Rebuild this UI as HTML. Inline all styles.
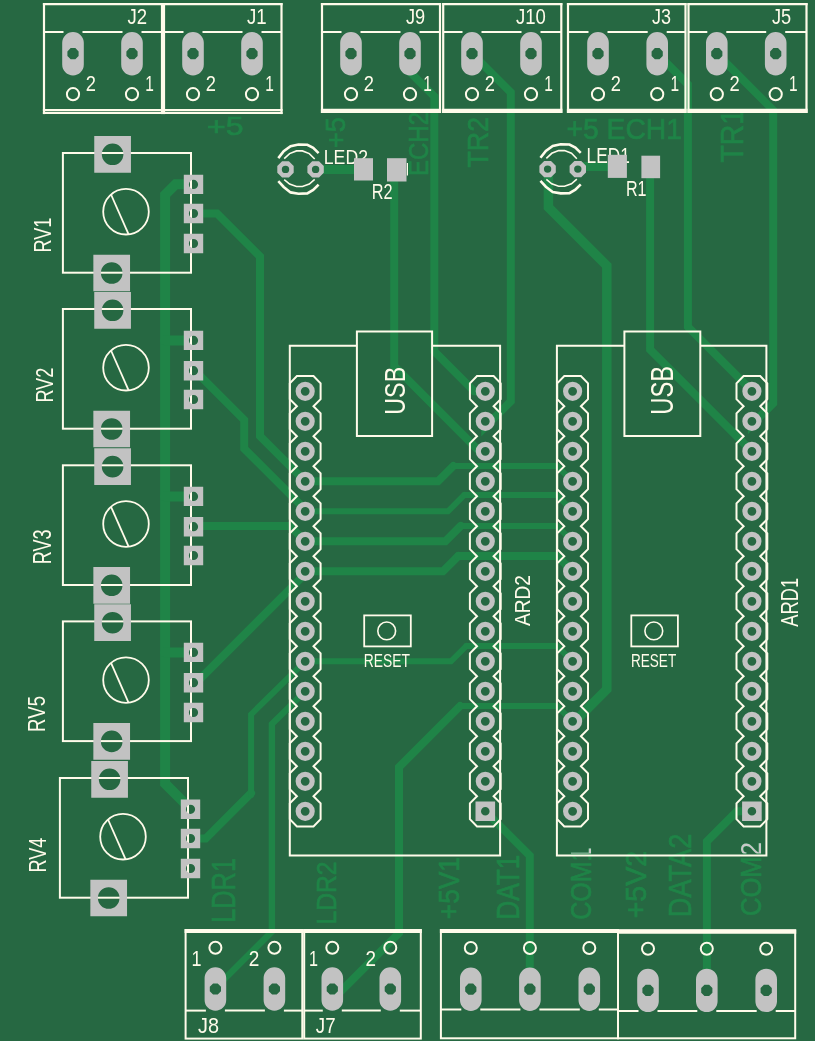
<!DOCTYPE html>
<html><head><meta charset="utf-8"><title>PCB</title>
<style>html,body{margin:0;padding:0;background:#266842;overflow:hidden}svg{display:block;will-change:transform}text{font-family:"Liberation Sans",sans-serif}</style>
</head><body>
<svg width="815" height="1041" viewBox="0 0 815 1041">
<rect width="815" height="1041" fill="#266842"/>
<g id="tr">
<polyline points="410,72.1 434.3,96.4 434.3,351.4 474.2,391.3 485.3,391.3" fill="none" stroke="#1f8447" stroke-width="8" stroke-linecap="round" stroke-linejoin="miter" stroke-miterlimit="4"/>
<polyline points="472,53.7 510.8,92.5 510.8,401.4 485.3,426.9 485.3,421.3" fill="none" stroke="#1f8447" stroke-width="8" stroke-linecap="round" stroke-linejoin="miter" stroke-miterlimit="4"/>
<polyline points="657.2,53.7 687.9,84.4 687.9,326.8 752.4,391.3" fill="none" stroke="#1f8447" stroke-width="8" stroke-linecap="round" stroke-linejoin="miter" stroke-miterlimit="4"/>
<polyline points="716.8,53.7 773.2,110.1 773.2,403.3 751.9,424.6 751.9,421.3" fill="none" stroke="#1f8447" stroke-width="8" stroke-linecap="round" stroke-linejoin="miter" stroke-miterlimit="4"/>
<polyline points="315.6,169.5 363,169.5" fill="none" stroke="#1f8447" stroke-width="9" stroke-linecap="round" stroke-linejoin="miter" stroke-miterlimit="4"/>
<polyline points="396.7,170 394.2,172.5 394.2,366.2 478.7,450.7 485.3,450.7" fill="none" stroke="#1f8447" stroke-width="8" stroke-linecap="round" stroke-linejoin="miter" stroke-miterlimit="4"/>
<polyline points="577.8,166.5 617,166.5" fill="none" stroke="#1f8447" stroke-width="9" stroke-linecap="round" stroke-linejoin="miter" stroke-miterlimit="4"/>
<polyline points="650.7,167 650.1,168 650.1,349.7 751.9,451.3" fill="none" stroke="#1f8447" stroke-width="8" stroke-linecap="round" stroke-linejoin="miter" stroke-miterlimit="4"/>
<polyline points="547.6,169 548.4,170 548.4,207.3 606.8,265.7 606.8,689.4 575.6,720.6 572.6,721.3" fill="none" stroke="#1f8447" stroke-width="9.5" stroke-linecap="round" stroke-linejoin="miter" stroke-miterlimit="4"/>
<polyline points="193.5,184.2 175.7,184.2 165.1,194.8 165.1,783.6 190.5,809" fill="none" stroke="#1f8447" stroke-width="10" stroke-linecap="round" stroke-linejoin="miter" stroke-miterlimit="4"/>
<polyline points="165.1,340.4 193.5,340.4" fill="none" stroke="#1f8447" stroke-width="10" stroke-linecap="round" stroke-linejoin="miter" stroke-miterlimit="4"/>
<polyline points="165.1,496.4 193.5,496.4" fill="none" stroke="#1f8447" stroke-width="10" stroke-linecap="round" stroke-linejoin="miter" stroke-miterlimit="4"/>
<polyline points="165.1,652.4 193.5,652.4" fill="none" stroke="#1f8447" stroke-width="10" stroke-linecap="round" stroke-linejoin="miter" stroke-miterlimit="4"/>
<polyline points="193.5,213.5 217,213.5 260,256.5 260,436 305.2,481.3 438,481.3 453.3,466" fill="none" stroke="#1f8447" stroke-width="8" stroke-linecap="round" stroke-linejoin="miter" stroke-miterlimit="4"/>
<polyline points="453.3,466 557,466 572.6,481.3" fill="none" stroke="#1f8447" stroke-width="6" stroke-linecap="round" stroke-linejoin="miter" stroke-miterlimit="4"/>
<polyline points="193.5,370.7 195,370.7 244.2,419.9 244.2,448.5 305.2,509.5 305.2,511.3" fill="none" stroke="#1f8447" stroke-width="8" stroke-linecap="round" stroke-linejoin="miter" stroke-miterlimit="4"/>
<polyline points="305.2,511.3 448,511.3 464.4,494.9" fill="none" stroke="#1f8447" stroke-width="6" stroke-linecap="round" stroke-linejoin="miter" stroke-miterlimit="4"/>
<polyline points="464.4,494.9 557,494.9 572.6,511.3" fill="none" stroke="#1f8447" stroke-width="6" stroke-linecap="round" stroke-linejoin="miter" stroke-miterlimit="4"/>
<polyline points="193.5,526 290,526 305.2,541.3 445.4,541.3 460.8,525.9" fill="none" stroke="#1f8447" stroke-width="8" stroke-linecap="round" stroke-linejoin="miter" stroke-miterlimit="4"/>
<polyline points="460.8,525.9 557,525.9 572.6,541.3" fill="none" stroke="#1f8447" stroke-width="6" stroke-linecap="round" stroke-linejoin="miter" stroke-miterlimit="4"/>
<polyline points="193.5,682.7 196.3,682.7 305.2,573.8 305.2,571.3 443,571.3 458.4,555.9" fill="none" stroke="#1f8447" stroke-width="8" stroke-linecap="round" stroke-linejoin="miter" stroke-miterlimit="4"/>
<polyline points="458.4,555.9 557,555.9 572.6,571.3" fill="none" stroke="#1f8447" stroke-width="8" stroke-linecap="round" stroke-linejoin="miter" stroke-miterlimit="4"/>
<polyline points="190.5,838.5 205.7,838.5 251.1,793.1" fill="none" stroke="#1f8447" stroke-width="8" stroke-linecap="round" stroke-linejoin="miter" stroke-miterlimit="4"/>
<polyline points="251.1,795 251.1,714.4 305.2,661.3 451,661.3 466.3,646" fill="none" stroke="#1f8447" stroke-width="6" stroke-linecap="round" stroke-linejoin="miter" stroke-miterlimit="4"/>
<polyline points="466.3,646 557,646 572.6,661.3" fill="none" stroke="#1f8447" stroke-width="6" stroke-linecap="round" stroke-linejoin="miter" stroke-miterlimit="4"/>
<polyline points="305.2,691.3 271.9,724 271.9,931.6 215.4,988.1" fill="none" stroke="#1f8447" stroke-width="6.4" stroke-linecap="round" stroke-linejoin="miter" stroke-miterlimit="4"/>
<polyline points="332.3,999.8 399,933.1 399,767.1 460.1,706" fill="none" stroke="#1f8447" stroke-width="8" stroke-linecap="round" stroke-linejoin="miter" stroke-miterlimit="4"/>
<polyline points="460.1,706 557,706 572.6,721.3" fill="none" stroke="#1f8447" stroke-width="6" stroke-linecap="round" stroke-linejoin="miter" stroke-miterlimit="4"/>
<polyline points="485.3,811.3 529.8,855.6 529.8,989.2" fill="none" stroke="#1f8447" stroke-width="8" stroke-linecap="round" stroke-linejoin="miter" stroke-miterlimit="4"/>
<polyline points="751.9,811.3 736.9,811.3 706.9,841.3 706.9,990.4" fill="none" stroke="#1f8447" stroke-width="8" stroke-linecap="round" stroke-linejoin="miter" stroke-miterlimit="4"/>
</g>
<g id="ct" font-family="Liberation Sans" stroke="#1f8447" stroke-width="0.7">
<text x="207" y="134.8" font-size="26" fill="#1f8447" textLength="36.5" lengthAdjust="spacingAndGlyphs">+5</text>
<text transform="translate(344.7,148) rotate(-90)" x="0" y="0" font-size="28.14" fill="#1f8447" textLength="31" lengthAdjust="spacingAndGlyphs">+5</text>
<text transform="translate(428,176) rotate(-90)" x="0" y="0" font-size="27.86" fill="#1f8447" textLength="64" lengthAdjust="spacingAndGlyphs">ECH2</text>
<text transform="translate(488,167.5) rotate(-90)" x="0" y="0" font-size="30" fill="#1f8447" textLength="50.5" lengthAdjust="spacingAndGlyphs">TR2</text>
<text x="566.4" y="139.3" font-size="29.29" fill="#1f8447" textLength="115.6" lengthAdjust="spacingAndGlyphs">+5 ECH1</text>
<text transform="translate(743,162.6) rotate(-90)" x="0" y="0" font-size="31.43" fill="#1f8447" textLength="53.6" lengthAdjust="spacingAndGlyphs">TR1</text>
<text transform="translate(234.6,922.8) rotate(-90)" x="0" y="0" font-size="33.14" fill="#1f8447" textLength="64.8" lengthAdjust="spacingAndGlyphs">LDR1</text>
<text transform="translate(335.6,924.5) rotate(-90)" x="0" y="0" font-size="28.29" fill="#1f8447" textLength="63" lengthAdjust="spacingAndGlyphs">LDR2</text>
<text transform="translate(458.6,919.2) rotate(-90)" x="0" y="0" font-size="29.71" fill="#1f8447" textLength="62.2" lengthAdjust="spacingAndGlyphs">+5V1</text>
<text transform="translate(519.4,919.8) rotate(-90)" x="0" y="0" font-size="30.57" fill="#1f8447" textLength="65.1" lengthAdjust="spacingAndGlyphs">DAT1</text>
<text transform="translate(591,919.8) rotate(-90)" x="0" y="0" font-size="29.71" fill="#1f8447" textLength="72.4" lengthAdjust="spacingAndGlyphs">COM1</text>
<text transform="translate(646.4,918.3) rotate(-90)" x="0" y="0" font-size="30" fill="#1f8447" textLength="67.4" lengthAdjust="spacingAndGlyphs">+5V2</text>
<text transform="translate(690.5,917.2) rotate(-90)" x="0" y="0" font-size="30.86" fill="#1f8447" textLength="83.5" lengthAdjust="spacingAndGlyphs">DATA2</text>
<text transform="translate(761.2,916.1) rotate(-90)" x="0" y="0" font-size="30" fill="#1f8447" textLength="74" lengthAdjust="spacingAndGlyphs">COM2</text>
</g>
<g id="hole">
<path d="M70.68,48.1 L75.32,48.1 L78.6,51.38 L78.6,56.02 L75.32,59.3 L70.68,59.3 L67.4,56.02 L67.4,51.38Z" fill="#266842"/>
<path d="M129.68,48.1 L134.32,48.1 L137.6,51.38 L137.6,56.02 L134.32,59.3 L129.68,59.3 L126.4,56.02 L126.4,51.38Z" fill="#266842"/>
<path d="M190.68,48.1 L195.32,48.1 L198.6,51.38 L198.6,56.02 L195.32,59.3 L190.68,59.3 L187.4,56.02 L187.4,51.38Z" fill="#266842"/>
<path d="M249.68,48.1 L254.32,48.1 L257.6,51.38 L257.6,56.02 L254.32,59.3 L249.68,59.3 L246.4,56.02 L246.4,51.38Z" fill="#266842"/>
<path d="M348.68,48.1 L353.32,48.1 L356.6,51.38 L356.6,56.02 L353.32,59.3 L348.68,59.3 L345.4,56.02 L345.4,51.38Z" fill="#266842"/>
<path d="M407.68,48.1 L412.32,48.1 L415.6,51.38 L415.6,56.02 L412.32,59.3 L407.68,59.3 L404.4,56.02 L404.4,51.38Z" fill="#266842"/>
<path d="M469.68,48.1 L474.32,48.1 L477.6,51.38 L477.6,56.02 L474.32,59.3 L469.68,59.3 L466.4,56.02 L466.4,51.38Z" fill="#266842"/>
<path d="M528.68,48.1 L533.32,48.1 L536.6,51.38 L536.6,56.02 L533.32,59.3 L528.68,59.3 L525.4,56.02 L525.4,51.38Z" fill="#266842"/>
<path d="M595.68,48.1 L600.32,48.1 L603.6,51.38 L603.6,56.02 L600.32,59.3 L595.68,59.3 L592.4,56.02 L592.4,51.38Z" fill="#266842"/>
<path d="M654.88,48.1 L659.52,48.1 L662.8,51.38 L662.8,56.02 L659.52,59.3 L654.88,59.3 L651.6,56.02 L651.6,51.38Z" fill="#266842"/>
<path d="M714.48,48.1 L719.12,48.1 L722.4,51.38 L722.4,56.02 L719.12,59.3 L714.48,59.3 L711.2,56.02 L711.2,51.38Z" fill="#266842"/>
<path d="M773.38,48.1 L778.02,48.1 L781.3,51.38 L781.3,56.02 L778.02,59.3 L773.38,59.3 L770.1,56.02 L770.1,51.38Z" fill="#266842"/>
<circle cx="112.6" cy="154.3" r="10.8" fill="#266842"/>
<circle cx="111.7" cy="273" r="10.8" fill="#266842"/>
<circle cx="193.5" cy="184.4" r="4.6" fill="#266842"/>
<circle cx="193.5" cy="213.5" r="4.6" fill="#266842"/>
<circle cx="193.5" cy="243.5" r="4.6" fill="#266842"/>
<circle cx="112.6" cy="310.3" r="10.8" fill="#266842"/>
<circle cx="111.7" cy="429" r="10.8" fill="#266842"/>
<circle cx="193.5" cy="340.4" r="4.6" fill="#266842"/>
<circle cx="193.5" cy="370.7" r="4.6" fill="#266842"/>
<circle cx="193.5" cy="399.5" r="4.6" fill="#266842"/>
<circle cx="112.6" cy="466.6" r="10.8" fill="#266842"/>
<circle cx="111.7" cy="585.3" r="10.8" fill="#266842"/>
<circle cx="193.5" cy="496.4" r="4.6" fill="#266842"/>
<circle cx="193.5" cy="526.7" r="4.6" fill="#266842"/>
<circle cx="193.5" cy="555.5" r="4.6" fill="#266842"/>
<circle cx="112.6" cy="622.7" r="10.8" fill="#266842"/>
<circle cx="111.7" cy="741.4" r="10.8" fill="#266842"/>
<circle cx="193.5" cy="652.4" r="4.6" fill="#266842"/>
<circle cx="193.5" cy="682.7" r="4.6" fill="#266842"/>
<circle cx="193.5" cy="712.5" r="4.6" fill="#266842"/>
<circle cx="109.6" cy="779.3" r="10.8" fill="#266842"/>
<circle cx="108.7" cy="898" r="10.8" fill="#266842"/>
<circle cx="190.5" cy="809.3" r="4.6" fill="#266842"/>
<circle cx="190.5" cy="838.5" r="4.6" fill="#266842"/>
<circle cx="190.5" cy="868.5" r="4.6" fill="#266842"/>
<circle cx="305.2" cy="391.3" r="4.4" fill="#266842"/>
<circle cx="485.3" cy="391.3" r="4.4" fill="#266842"/>
<circle cx="305.2" cy="421.3" r="4.4" fill="#266842"/>
<circle cx="485.3" cy="421.3" r="4.4" fill="#266842"/>
<circle cx="305.2" cy="451.3" r="4.4" fill="#266842"/>
<circle cx="485.3" cy="451.3" r="4.4" fill="#266842"/>
<circle cx="305.2" cy="481.3" r="4.4" fill="#266842"/>
<circle cx="485.3" cy="481.3" r="4.4" fill="#266842"/>
<circle cx="305.2" cy="511.3" r="4.4" fill="#266842"/>
<circle cx="485.3" cy="511.3" r="4.4" fill="#266842"/>
<circle cx="305.2" cy="541.3" r="4.4" fill="#266842"/>
<circle cx="485.3" cy="541.3" r="4.4" fill="#266842"/>
<circle cx="305.2" cy="571.3" r="4.4" fill="#266842"/>
<circle cx="485.3" cy="571.3" r="4.4" fill="#266842"/>
<circle cx="305.2" cy="601.3" r="4.4" fill="#266842"/>
<circle cx="485.3" cy="601.3" r="4.4" fill="#266842"/>
<circle cx="305.2" cy="631.3" r="4.4" fill="#266842"/>
<circle cx="485.3" cy="631.3" r="4.4" fill="#266842"/>
<circle cx="305.2" cy="661.3" r="4.4" fill="#266842"/>
<circle cx="485.3" cy="661.3" r="4.4" fill="#266842"/>
<circle cx="305.2" cy="691.3" r="4.4" fill="#266842"/>
<circle cx="485.3" cy="691.3" r="4.4" fill="#266842"/>
<circle cx="305.2" cy="721.3" r="4.4" fill="#266842"/>
<circle cx="485.3" cy="721.3" r="4.4" fill="#266842"/>
<circle cx="305.2" cy="751.3" r="4.4" fill="#266842"/>
<circle cx="485.3" cy="751.3" r="4.4" fill="#266842"/>
<circle cx="305.2" cy="781.3" r="4.4" fill="#266842"/>
<circle cx="485.3" cy="781.3" r="4.4" fill="#266842"/>
<circle cx="305.2" cy="811.3" r="4.4" fill="#266842"/>
<circle cx="485.3" cy="811.3" r="4.3" fill="#266842"/>
<circle cx="572.6" cy="391.3" r="4.4" fill="#266842"/>
<circle cx="751.9" cy="391.3" r="4.4" fill="#266842"/>
<circle cx="572.6" cy="421.3" r="4.4" fill="#266842"/>
<circle cx="751.9" cy="421.3" r="4.4" fill="#266842"/>
<circle cx="572.6" cy="451.3" r="4.4" fill="#266842"/>
<circle cx="751.9" cy="451.3" r="4.4" fill="#266842"/>
<circle cx="572.6" cy="481.3" r="4.4" fill="#266842"/>
<circle cx="751.9" cy="481.3" r="4.4" fill="#266842"/>
<circle cx="572.6" cy="511.3" r="4.4" fill="#266842"/>
<circle cx="751.9" cy="511.3" r="4.4" fill="#266842"/>
<circle cx="572.6" cy="541.3" r="4.4" fill="#266842"/>
<circle cx="751.9" cy="541.3" r="4.4" fill="#266842"/>
<circle cx="572.6" cy="571.3" r="4.4" fill="#266842"/>
<circle cx="751.9" cy="571.3" r="4.4" fill="#266842"/>
<circle cx="572.6" cy="601.3" r="4.4" fill="#266842"/>
<circle cx="751.9" cy="601.3" r="4.4" fill="#266842"/>
<circle cx="572.6" cy="631.3" r="4.4" fill="#266842"/>
<circle cx="751.9" cy="631.3" r="4.4" fill="#266842"/>
<circle cx="572.6" cy="661.3" r="4.4" fill="#266842"/>
<circle cx="751.9" cy="661.3" r="4.4" fill="#266842"/>
<circle cx="572.6" cy="691.3" r="4.4" fill="#266842"/>
<circle cx="751.9" cy="691.3" r="4.4" fill="#266842"/>
<circle cx="572.6" cy="721.3" r="4.4" fill="#266842"/>
<circle cx="751.9" cy="721.3" r="4.4" fill="#266842"/>
<circle cx="572.6" cy="751.3" r="4.4" fill="#266842"/>
<circle cx="751.9" cy="751.3" r="4.4" fill="#266842"/>
<circle cx="572.6" cy="781.3" r="4.4" fill="#266842"/>
<circle cx="751.9" cy="781.3" r="4.4" fill="#266842"/>
<circle cx="572.6" cy="811.3" r="4.4" fill="#266842"/>
<circle cx="751.9" cy="811.3" r="4.3" fill="#266842"/>
<circle cx="285.5" cy="169.4" r="3.7" fill="#266842"/>
<circle cx="315.6" cy="169.4" r="3.7" fill="#266842"/>
<circle cx="547.6" cy="169.1" r="3.7" fill="#266842"/>
<circle cx="577.8" cy="169.1" r="3.7" fill="#266842"/>
<path d="M213.08,983.4 L217.72,983.4 L221,986.68 L221,991.32 L217.72,994.6 L213.08,994.6 L209.8,991.32 L209.8,986.68Z" fill="#266842"/>
<path d="M272.08,983.4 L276.72,983.4 L280,986.68 L280,991.32 L276.72,994.6 L272.08,994.6 L268.8,991.32 L268.8,986.68Z" fill="#266842"/>
<path d="M329.98,983.4 L334.62,983.4 L337.9,986.68 L337.9,991.32 L334.62,994.6 L329.98,994.6 L326.7,991.32 L326.7,986.68Z" fill="#266842"/>
<path d="M387.98,983.4 L392.62,983.4 L395.9,986.68 L395.9,991.32 L392.62,994.6 L387.98,994.6 L384.7,991.32 L384.7,986.68Z" fill="#266842"/>
<path d="M468.48,983.6 L473.12,983.6 L476.4,986.88 L476.4,991.52 L473.12,994.8 L468.48,994.8 L465.2,991.52 L465.2,986.88Z" fill="#266842"/>
<path d="M527.58,983.6 L532.22,983.6 L535.5,986.88 L535.5,991.52 L532.22,994.8 L527.58,994.8 L524.3,991.52 L524.3,986.88Z" fill="#266842"/>
<path d="M586.98,983.6 L591.62,983.6 L594.9,986.88 L594.9,991.52 L591.62,994.8 L586.98,994.8 L583.7,991.52 L583.7,986.88Z" fill="#266842"/>
<path d="M645.68,984.8 L650.32,984.8 L653.6,988.08 L653.6,992.72 L650.32,996 L645.68,996 L642.4,992.72 L642.4,988.08Z" fill="#266842"/>
<path d="M704.48,984.8 L709.12,984.8 L712.4,988.08 L712.4,992.72 L709.12,996 L704.48,996 L701.2,992.72 L701.2,988.08Z" fill="#266842"/>
<path d="M763.88,984.8 L768.52,984.8 L771.8,988.08 L771.8,992.72 L768.52,996 L763.88,996 L760.6,992.72 L760.6,988.08Z" fill="#266842"/>
</g>
<g id="silk" font-family="Liberation Sans">
<line x1="42.9" y1="4.2" x2="163.1" y2="4.2" stroke="#fffbea" stroke-width="2.2"/>
<line x1="44" y1="3.1" x2="44" y2="114.1" stroke="#fffbea" stroke-width="2.2"/>
<line x1="162" y1="3.1" x2="162" y2="114.1" stroke="#fffbea" stroke-width="2.2"/>
<line x1="42.9" y1="110.1" x2="163.1" y2="110.1" stroke="#fffbea" stroke-width="2.2"/>
<line x1="42.9" y1="113" x2="163.1" y2="113" stroke="#fffbea" stroke-width="2.2"/>
<line x1="44" y1="32" x2="63.5" y2="32" stroke="#fffbea" stroke-width="2"/>
<line x1="82.5" y1="32" x2="122.5" y2="32" stroke="#fffbea" stroke-width="2"/>
<line x1="141.5" y1="32" x2="162" y2="32" stroke="#fffbea" stroke-width="2"/>
<circle cx="73" cy="94.2" r="6.1" fill="none" stroke="#fffbea" stroke-width="2"/>
<circle cx="132" cy="94.2" r="6.1" fill="none" stroke="#fffbea" stroke-width="2"/>
<text x="85.8" y="90.7" font-size="21.57" fill="#fffbea" textLength="10.2" lengthAdjust="spacingAndGlyphs">2</text>
<text x="145.2" y="90.7" font-size="21.57" fill="#fffbea" textLength="8.6" lengthAdjust="spacingAndGlyphs">1</text>
<text x="127.6" y="23.8" font-size="21.71" fill="#fffbea" textLength="19.6" lengthAdjust="spacingAndGlyphs">J2</text>
<line x1="162.9" y1="4.2" x2="282.6" y2="4.2" stroke="#fffbea" stroke-width="2.2"/>
<line x1="164" y1="3.1" x2="164" y2="114.1" stroke="#fffbea" stroke-width="2.2"/>
<line x1="281.5" y1="3.1" x2="281.5" y2="114.1" stroke="#fffbea" stroke-width="2.2"/>
<line x1="162.9" y1="110.1" x2="282.6" y2="110.1" stroke="#fffbea" stroke-width="2.2"/>
<line x1="162.9" y1="113" x2="282.6" y2="113" stroke="#fffbea" stroke-width="2.2"/>
<line x1="164" y1="32" x2="183.5" y2="32" stroke="#fffbea" stroke-width="2"/>
<line x1="202.5" y1="32" x2="242.5" y2="32" stroke="#fffbea" stroke-width="2"/>
<line x1="261.5" y1="32" x2="281.5" y2="32" stroke="#fffbea" stroke-width="2"/>
<circle cx="193" cy="94.2" r="6.1" fill="none" stroke="#fffbea" stroke-width="2"/>
<circle cx="252" cy="94.2" r="6.1" fill="none" stroke="#fffbea" stroke-width="2"/>
<text x="205.8" y="90.7" font-size="21.57" fill="#fffbea" textLength="10.2" lengthAdjust="spacingAndGlyphs">2</text>
<text x="265.2" y="90.7" font-size="21.57" fill="#fffbea" textLength="8.6" lengthAdjust="spacingAndGlyphs">1</text>
<text x="246.9" y="23.8" font-size="21.71" fill="#fffbea" textLength="19.7" lengthAdjust="spacingAndGlyphs">J1</text>
<line x1="320.9" y1="4.2" x2="441.1" y2="4.2" stroke="#fffbea" stroke-width="2.2"/>
<line x1="322" y1="3.1" x2="322" y2="112.9" stroke="#fffbea" stroke-width="2.2"/>
<line x1="440" y1="3.1" x2="440" y2="112.9" stroke="#fffbea" stroke-width="2.2"/>
<line x1="320.9" y1="110.8" x2="441.1" y2="110.8" stroke="#fffbea" stroke-width="4.2"/>
<line x1="322" y1="32" x2="341.5" y2="32" stroke="#fffbea" stroke-width="2"/>
<line x1="360.5" y1="32" x2="400.5" y2="32" stroke="#fffbea" stroke-width="2"/>
<line x1="419.5" y1="32" x2="440" y2="32" stroke="#fffbea" stroke-width="2"/>
<circle cx="351" cy="94.2" r="6.1" fill="none" stroke="#fffbea" stroke-width="2"/>
<circle cx="410" cy="94.2" r="6.1" fill="none" stroke="#fffbea" stroke-width="2"/>
<text x="363.8" y="90.7" font-size="21.57" fill="#fffbea" textLength="10.2" lengthAdjust="spacingAndGlyphs">2</text>
<text x="423.2" y="90.7" font-size="21.57" fill="#fffbea" textLength="8.6" lengthAdjust="spacingAndGlyphs">1</text>
<text x="406" y="23.8" font-size="21.71" fill="#fffbea" textLength="19.2" lengthAdjust="spacingAndGlyphs">J9</text>
<line x1="442.1" y1="4.2" x2="562.4" y2="4.2" stroke="#fffbea" stroke-width="2.2"/>
<line x1="443.2" y1="3.1" x2="443.2" y2="112.9" stroke="#fffbea" stroke-width="2.2"/>
<line x1="561.3" y1="3.1" x2="561.3" y2="112.9" stroke="#fffbea" stroke-width="2.2"/>
<line x1="442.1" y1="110.8" x2="562.4" y2="110.8" stroke="#fffbea" stroke-width="4.2"/>
<line x1="443.2" y1="32" x2="462.5" y2="32" stroke="#fffbea" stroke-width="2"/>
<line x1="481.5" y1="32" x2="521.5" y2="32" stroke="#fffbea" stroke-width="2"/>
<line x1="540.5" y1="32" x2="561.3" y2="32" stroke="#fffbea" stroke-width="2"/>
<circle cx="472" cy="94.2" r="6.1" fill="none" stroke="#fffbea" stroke-width="2"/>
<circle cx="531" cy="94.2" r="6.1" fill="none" stroke="#fffbea" stroke-width="2"/>
<text x="484.8" y="90.7" font-size="21.57" fill="#fffbea" textLength="10.2" lengthAdjust="spacingAndGlyphs">2</text>
<text x="544.2" y="90.7" font-size="21.57" fill="#fffbea" textLength="8.6" lengthAdjust="spacingAndGlyphs">1</text>
<text x="515.9" y="23.8" font-size="21.71" fill="#fffbea" textLength="29.9" lengthAdjust="spacingAndGlyphs">J10</text>
<line x1="566.9" y1="4.2" x2="686.6" y2="4.2" stroke="#fffbea" stroke-width="2.2"/>
<line x1="568" y1="3.1" x2="568" y2="112.9" stroke="#fffbea" stroke-width="2.2"/>
<line x1="685.5" y1="3.1" x2="685.5" y2="112.9" stroke="#fffbea" stroke-width="2.2"/>
<line x1="566.9" y1="110.8" x2="686.6" y2="110.8" stroke="#fffbea" stroke-width="4.2"/>
<line x1="568" y1="32" x2="588.5" y2="32" stroke="#fffbea" stroke-width="2"/>
<line x1="607.5" y1="32" x2="647.7" y2="32" stroke="#fffbea" stroke-width="2"/>
<line x1="666.7" y1="32" x2="685.5" y2="32" stroke="#fffbea" stroke-width="2"/>
<circle cx="598" cy="94.2" r="6.1" fill="none" stroke="#fffbea" stroke-width="2"/>
<circle cx="657.2" cy="94.2" r="6.1" fill="none" stroke="#fffbea" stroke-width="2"/>
<text x="610.8" y="90.7" font-size="21.57" fill="#fffbea" textLength="10.2" lengthAdjust="spacingAndGlyphs">2</text>
<text x="670.4" y="90.7" font-size="21.57" fill="#fffbea" textLength="8.6" lengthAdjust="spacingAndGlyphs">1</text>
<text x="652" y="23.8" font-size="21.71" fill="#fffbea" textLength="19" lengthAdjust="spacingAndGlyphs">J3</text>
<line x1="687.4" y1="4.2" x2="807.6" y2="4.2" stroke="#fffbea" stroke-width="2.2"/>
<line x1="688.5" y1="3.1" x2="688.5" y2="112.9" stroke="#fffbea" stroke-width="2.2"/>
<line x1="806.5" y1="3.1" x2="806.5" y2="112.9" stroke="#fffbea" stroke-width="2.2"/>
<line x1="687.4" y1="110.8" x2="807.6" y2="110.8" stroke="#fffbea" stroke-width="4.2"/>
<line x1="688.5" y1="32" x2="707.3" y2="32" stroke="#fffbea" stroke-width="2"/>
<line x1="726.3" y1="32" x2="766.2" y2="32" stroke="#fffbea" stroke-width="2"/>
<line x1="785.2" y1="32" x2="806.5" y2="32" stroke="#fffbea" stroke-width="2"/>
<circle cx="716.8" cy="94.2" r="6.1" fill="none" stroke="#fffbea" stroke-width="2"/>
<circle cx="775.7" cy="94.2" r="6.1" fill="none" stroke="#fffbea" stroke-width="2"/>
<text x="729.6" y="90.7" font-size="21.57" fill="#fffbea" textLength="10.2" lengthAdjust="spacingAndGlyphs">2</text>
<text x="788.9" y="90.7" font-size="21.57" fill="#fffbea" textLength="8.6" lengthAdjust="spacingAndGlyphs">1</text>
<text x="772" y="23.8" font-size="21.71" fill="#fffbea" textLength="19.2" lengthAdjust="spacingAndGlyphs">J5</text>
<rect x="62.9" y="153" width="128.1" height="119.7" fill="none" stroke="#fffbea" stroke-width="2"/>
<circle cx="126" cy="211.7" r="22.8" fill="none" stroke="#fffbea" stroke-width="1.8"/>
<line x1="111.02" y1="194.5" x2="128.62" y2="234.4" stroke="#fffbea" stroke-width="1.8"/>
<text transform="translate(51.3,252.5) rotate(-90)" x="0" y="0" font-size="23.57" fill="#fffbea" textLength="34.8" lengthAdjust="spacingAndGlyphs">RV1</text>
<rect x="62.9" y="309" width="128.1" height="119.7" fill="none" stroke="#fffbea" stroke-width="2"/>
<circle cx="126" cy="367.7" r="22.8" fill="none" stroke="#fffbea" stroke-width="1.8"/>
<line x1="111.02" y1="350.5" x2="128.62" y2="390.4" stroke="#fffbea" stroke-width="1.8"/>
<text transform="translate(53,402.6) rotate(-90)" x="0" y="0" font-size="23.71" fill="#fffbea" textLength="34.8" lengthAdjust="spacingAndGlyphs">RV2</text>
<rect x="62.9" y="465.3" width="128.1" height="119.7" fill="none" stroke="#fffbea" stroke-width="2"/>
<circle cx="126" cy="524" r="22.8" fill="none" stroke="#fffbea" stroke-width="1.8"/>
<line x1="111.02" y1="506.8" x2="128.62" y2="546.7" stroke="#fffbea" stroke-width="1.8"/>
<text transform="translate(51,564.2) rotate(-90)" x="0" y="0" font-size="25.71" fill="#fffbea" textLength="34.8" lengthAdjust="spacingAndGlyphs">RV3</text>
<rect x="62.9" y="621.4" width="128.1" height="119.7" fill="none" stroke="#fffbea" stroke-width="2"/>
<circle cx="126" cy="680.1" r="22.8" fill="none" stroke="#fffbea" stroke-width="1.8"/>
<line x1="111.02" y1="662.9" x2="128.62" y2="702.8" stroke="#fffbea" stroke-width="1.8"/>
<text transform="translate(44.7,731.9) rotate(-90)" x="0" y="0" font-size="23.86" fill="#fffbea" textLength="35.9" lengthAdjust="spacingAndGlyphs">RV5</text>
<rect x="59.9" y="778" width="128.1" height="119.7" fill="none" stroke="#fffbea" stroke-width="2"/>
<circle cx="123" cy="836.7" r="22.8" fill="none" stroke="#fffbea" stroke-width="1.8"/>
<line x1="108.02" y1="819.5" x2="125.62" y2="859.4" stroke="#fffbea" stroke-width="1.8"/>
<text transform="translate(46.4,872.5) rotate(-90)" x="0" y="0" font-size="23.71" fill="#fffbea" textLength="34.8" lengthAdjust="spacingAndGlyphs">RV4</text>
<polyline points="356.9,345.8 289.8,345.8 289.8,855.4 500.1,855.4 500.1,345.8 432.1,345.8" fill="none" stroke="#fffbea" stroke-width="2" stroke-linejoin="miter"/>
<rect x="356.9" y="331.5" width="75.2" height="104.5" fill="none" stroke="#fffbea" stroke-width="2"/>
<text transform="translate(404.7,414.7) rotate(-90)" x="0" y="0" font-size="29.43" fill="#fffbea" textLength="47.9" lengthAdjust="spacingAndGlyphs">USB</text>
<polygon points="296.9,376.1 313.5,376.1 320.6,383.4 320.6,399.2 313.5,406.3 320.6,413.4 320.6,429.2 313.5,436.3 320.6,443.4 320.6,459.2 313.5,466.3 320.6,473.4 320.6,489.2 313.5,496.3 320.6,503.4 320.6,519.2 313.5,526.3 320.6,533.4 320.6,549.2 313.5,556.3 320.6,563.4 320.6,579.2 313.5,586.3 320.6,593.4 320.6,609.2 313.5,616.3 320.6,623.4 320.6,639.2 313.5,646.3 320.6,653.4 320.6,669.2 313.5,676.3 320.6,683.4 320.6,699.2 313.5,706.3 320.6,713.4 320.6,729.2 313.5,736.3 320.6,743.4 320.6,759.2 313.5,766.3 320.6,773.4 320.6,789.2 313.5,796.3 320.6,803.4 320.6,819.2 313.5,826.5 296.9,826.5 289.8,819.2 289.8,803.4 296.9,796.3 289.8,789.2 289.8,773.4 296.9,766.3 289.8,759.2 289.8,743.4 296.9,736.3 289.8,729.2 289.8,713.4 296.9,706.3 289.8,699.2 289.8,683.4 296.9,676.3 289.8,669.2 289.8,653.4 296.9,646.3 289.8,639.2 289.8,623.4 296.9,616.3 289.8,609.2 289.8,593.4 296.9,586.3 289.8,579.2 289.8,563.4 296.9,556.3 289.8,549.2 289.8,533.4 296.9,526.3 289.8,519.2 289.8,503.4 296.9,496.3 289.8,489.2 289.8,473.4 296.9,466.3 289.8,459.2 289.8,443.4 296.9,436.3 289.8,429.2 289.8,413.4 296.9,406.3 289.8,399.2 289.8,383.4" fill="none" stroke="#fffbea" stroke-width="2" stroke-linejoin="miter"/>
<polygon points="477,376.1 493.6,376.1 500.7,383.4 500.7,399.2 493.6,406.3 500.7,413.4 500.7,429.2 493.6,436.3 500.7,443.4 500.7,459.2 493.6,466.3 500.7,473.4 500.7,489.2 493.6,496.3 500.7,503.4 500.7,519.2 493.6,526.3 500.7,533.4 500.7,549.2 493.6,556.3 500.7,563.4 500.7,579.2 493.6,586.3 500.7,593.4 500.7,609.2 493.6,616.3 500.7,623.4 500.7,639.2 493.6,646.3 500.7,653.4 500.7,669.2 493.6,676.3 500.7,683.4 500.7,699.2 493.6,706.3 500.7,713.4 500.7,729.2 493.6,736.3 500.7,743.4 500.7,759.2 493.6,766.3 500.7,773.4 500.7,789.2 493.6,796.3 500.7,803.4 500.7,819.2 493.6,826.5 477,826.5 469.9,819.2 469.9,803.4 477,796.3 469.9,789.2 469.9,773.4 477,766.3 469.9,759.2 469.9,743.4 477,736.3 469.9,729.2 469.9,713.4 477,706.3 469.9,699.2 469.9,683.4 477,676.3 469.9,669.2 469.9,653.4 477,646.3 469.9,639.2 469.9,623.4 477,616.3 469.9,609.2 469.9,593.4 477,586.3 469.9,579.2 469.9,563.4 477,556.3 469.9,549.2 469.9,533.4 477,526.3 469.9,519.2 469.9,503.4 477,496.3 469.9,489.2 469.9,473.4 477,466.3 469.9,459.2 469.9,443.4 477,436.3 469.9,429.2 469.9,413.4 477,406.3 469.9,399.2 469.9,383.4" fill="none" stroke="#fffbea" stroke-width="2" stroke-linejoin="miter"/>
<rect x="364.2" y="615.4" width="46.6" height="31" fill="none" stroke="#fffbea" stroke-width="1.8"/>
<circle cx="386.7" cy="630.9" r="8.9" fill="none" stroke="#fffbea" stroke-width="1.6"/>
<text x="363.7" y="667.2" font-size="17.43" fill="#fffbea" textLength="46.2" lengthAdjust="spacingAndGlyphs">RESET</text>
<text transform="translate(529.7,626) rotate(-90)" x="0" y="0" font-size="22.86" fill="#fffbea" textLength="51" lengthAdjust="spacingAndGlyphs">ARD2</text>
<polyline points="624.4,345.8 556.9,345.8 556.9,855.4 766.4,855.4 766.4,345.8 700.3,345.8" fill="none" stroke="#fffbea" stroke-width="2" stroke-linejoin="miter"/>
<rect x="624.4" y="331.5" width="75.9" height="104.5" fill="none" stroke="#fffbea" stroke-width="2"/>
<text transform="translate(673.3,414.7) rotate(-90)" x="0" y="0" font-size="31.29" fill="#fffbea" textLength="48.9" lengthAdjust="spacingAndGlyphs">USB</text>
<polygon points="564.3,376.1 580.9,376.1 588,383.4 588,399.2 580.9,406.3 588,413.4 588,429.2 580.9,436.3 588,443.4 588,459.2 580.9,466.3 588,473.4 588,489.2 580.9,496.3 588,503.4 588,519.2 580.9,526.3 588,533.4 588,549.2 580.9,556.3 588,563.4 588,579.2 580.9,586.3 588,593.4 588,609.2 580.9,616.3 588,623.4 588,639.2 580.9,646.3 588,653.4 588,669.2 580.9,676.3 588,683.4 588,699.2 580.9,706.3 588,713.4 588,729.2 580.9,736.3 588,743.4 588,759.2 580.9,766.3 588,773.4 588,789.2 580.9,796.3 588,803.4 588,819.2 580.9,826.5 564.3,826.5 557.2,819.2 557.2,803.4 564.3,796.3 557.2,789.2 557.2,773.4 564.3,766.3 557.2,759.2 557.2,743.4 564.3,736.3 557.2,729.2 557.2,713.4 564.3,706.3 557.2,699.2 557.2,683.4 564.3,676.3 557.2,669.2 557.2,653.4 564.3,646.3 557.2,639.2 557.2,623.4 564.3,616.3 557.2,609.2 557.2,593.4 564.3,586.3 557.2,579.2 557.2,563.4 564.3,556.3 557.2,549.2 557.2,533.4 564.3,526.3 557.2,519.2 557.2,503.4 564.3,496.3 557.2,489.2 557.2,473.4 564.3,466.3 557.2,459.2 557.2,443.4 564.3,436.3 557.2,429.2 557.2,413.4 564.3,406.3 557.2,399.2 557.2,383.4" fill="none" stroke="#fffbea" stroke-width="2" stroke-linejoin="miter"/>
<polygon points="743.6,376.1 760.2,376.1 767.3,383.4 767.3,399.2 760.2,406.3 767.3,413.4 767.3,429.2 760.2,436.3 767.3,443.4 767.3,459.2 760.2,466.3 767.3,473.4 767.3,489.2 760.2,496.3 767.3,503.4 767.3,519.2 760.2,526.3 767.3,533.4 767.3,549.2 760.2,556.3 767.3,563.4 767.3,579.2 760.2,586.3 767.3,593.4 767.3,609.2 760.2,616.3 767.3,623.4 767.3,639.2 760.2,646.3 767.3,653.4 767.3,669.2 760.2,676.3 767.3,683.4 767.3,699.2 760.2,706.3 767.3,713.4 767.3,729.2 760.2,736.3 767.3,743.4 767.3,759.2 760.2,766.3 767.3,773.4 767.3,789.2 760.2,796.3 767.3,803.4 767.3,819.2 760.2,826.5 743.6,826.5 736.5,819.2 736.5,803.4 743.6,796.3 736.5,789.2 736.5,773.4 743.6,766.3 736.5,759.2 736.5,743.4 743.6,736.3 736.5,729.2 736.5,713.4 743.6,706.3 736.5,699.2 736.5,683.4 743.6,676.3 736.5,669.2 736.5,653.4 743.6,646.3 736.5,639.2 736.5,623.4 743.6,616.3 736.5,609.2 736.5,593.4 743.6,586.3 736.5,579.2 736.5,563.4 743.6,556.3 736.5,549.2 736.5,533.4 743.6,526.3 736.5,519.2 736.5,503.4 743.6,496.3 736.5,489.2 736.5,473.4 743.6,466.3 736.5,459.2 736.5,443.4 743.6,436.3 736.5,429.2 736.5,413.4 743.6,406.3 736.5,399.2 736.5,383.4" fill="none" stroke="#fffbea" stroke-width="2" stroke-linejoin="miter"/>
<rect x="631.3" y="615.4" width="46.6" height="31" fill="none" stroke="#fffbea" stroke-width="1.8"/>
<circle cx="653.8" cy="630.9" r="8.9" fill="none" stroke="#fffbea" stroke-width="1.6"/>
<text x="631" y="667.2" font-size="17.43" fill="#fffbea" textLength="45.2" lengthAdjust="spacingAndGlyphs">RESET</text>
<text transform="translate(798.1,626.8) rotate(-90)" x="0" y="0" font-size="24" fill="#fffbea" textLength="48.9" lengthAdjust="spacingAndGlyphs">ARD1</text>
<polyline points="278.3,158.1 283.7,151.2 290.6,146.3 298.5,144.5 307.3,144.8 313.2,147.8 318.6,153.2" fill="none" stroke="#fffbea" stroke-width="2.6" stroke-linejoin="miter"/>
<polyline points="278.3,181.1 283.7,187 290.6,192.4 298.5,193.7 307.3,193.4 313.2,190 318.6,184.6" fill="none" stroke="#fffbea" stroke-width="2.6" stroke-linejoin="miter"/>
<polyline points="284.2,158.6 289.6,153.6 296.5,150.9 302.4,150.9 309.3,153.6 314.7,159" fill="none" stroke="#fffbea" stroke-width="1.6" stroke-linejoin="miter"/>
<polyline points="284.2,179.7 289.6,184.1 296.5,186.5 302.4,186.5 309.3,184.1 314.7,179.4" fill="none" stroke="#fffbea" stroke-width="1.6" stroke-linejoin="miter"/>
<text x="323.8" y="164.3" font-size="20" fill="#fffbea" textLength="44.2" lengthAdjust="spacingAndGlyphs">LED2</text>
<polyline points="540.45,157.8 545.85,150.9 552.75,146 560.65,144.2 569.45,144.5 575.35,147.5 580.75,152.9" fill="none" stroke="#fffbea" stroke-width="2.6" stroke-linejoin="miter"/>
<polyline points="540.45,180.8 545.85,186.7 552.75,192.1 560.65,193.4 569.45,193.1 575.35,189.7 580.75,184.3" fill="none" stroke="#fffbea" stroke-width="2.6" stroke-linejoin="miter"/>
<polyline points="546.35,158.3 551.75,153.3 558.65,150.6 564.55,150.6 571.45,153.3 576.85,158.7" fill="none" stroke="#fffbea" stroke-width="1.6" stroke-linejoin="miter"/>
<polyline points="546.35,179.4 551.75,183.8 558.65,186.2 564.55,186.2 571.45,183.8 576.85,179.1" fill="none" stroke="#fffbea" stroke-width="1.6" stroke-linejoin="miter"/>
<text x="586.5" y="162.7" font-size="22.43" fill="#fffbea" textLength="43.3" lengthAdjust="spacingAndGlyphs">LED1</text>
<text x="371.7" y="198.6" font-size="21.71" fill="#fffbea" textLength="20.8" lengthAdjust="spacingAndGlyphs">R2</text>
<line x1="407.4" y1="163" x2="407.4" y2="175.5" stroke="#fffbea" stroke-width="1.2"/>
<text x="625.9" y="195.5" font-size="22.14" fill="#fffbea" textLength="20.6" lengthAdjust="spacingAndGlyphs">R1</text>
<rect x="185.6" y="930.2" width="116.7" height="108.4" fill="none" stroke="#fffbea" stroke-width="2"/>
<line x1="184.6" y1="930.9" x2="303.3" y2="930.9" stroke="#fffbea" stroke-width="4"/>
<line x1="185.6" y1="1010.6" x2="205.9" y2="1010.6" stroke="#fffbea" stroke-width="2"/>
<line x1="224.9" y1="1010.6" x2="264.9" y2="1010.6" stroke="#fffbea" stroke-width="2"/>
<line x1="283.9" y1="1010.6" x2="302.3" y2="1010.6" stroke="#fffbea" stroke-width="2"/>
<circle cx="215.4" cy="947.7" r="6" fill="none" stroke="#fffbea" stroke-width="2"/>
<circle cx="274.4" cy="947.7" r="6" fill="none" stroke="#fffbea" stroke-width="2"/>
<text x="191.5" y="966" font-size="21.43" fill="#fffbea" textLength="10" lengthAdjust="spacingAndGlyphs">1</text>
<text x="248.8" y="966" font-size="21.43" fill="#fffbea" textLength="10.6" lengthAdjust="spacingAndGlyphs">2</text>
<text x="198" y="1033" font-size="22.86" fill="#fffbea" textLength="21" lengthAdjust="spacingAndGlyphs">J8</text>
<rect x="304.2" y="930.2" width="116.6" height="108.4" fill="none" stroke="#fffbea" stroke-width="2"/>
<line x1="303.2" y1="930.9" x2="421.8" y2="930.9" stroke="#fffbea" stroke-width="4"/>
<line x1="304.2" y1="1010.6" x2="322.8" y2="1010.6" stroke="#fffbea" stroke-width="2"/>
<line x1="341.8" y1="1010.6" x2="380.8" y2="1010.6" stroke="#fffbea" stroke-width="2"/>
<line x1="399.8" y1="1010.6" x2="420.8" y2="1010.6" stroke="#fffbea" stroke-width="2"/>
<circle cx="332.3" cy="947.7" r="6" fill="none" stroke="#fffbea" stroke-width="2"/>
<circle cx="390.3" cy="947.7" r="6" fill="none" stroke="#fffbea" stroke-width="2"/>
<text x="309" y="966" font-size="21.43" fill="#fffbea" textLength="9" lengthAdjust="spacingAndGlyphs">1</text>
<text x="365.5" y="966" font-size="21.43" fill="#fffbea" textLength="10.5" lengthAdjust="spacingAndGlyphs">2</text>
<text x="315.8" y="1033" font-size="22.86" fill="#fffbea" textLength="19.8" lengthAdjust="spacingAndGlyphs">J7</text>
<rect x="440.9" y="930.2" width="177.1" height="108.1" fill="none" stroke="#fffbea" stroke-width="2"/>
<line x1="439.9" y1="931" x2="619" y2="931" stroke="#fffbea" stroke-width="4"/>
<line x1="440.9" y1="1009.5" x2="461.3" y2="1009.5" stroke="#fffbea" stroke-width="2"/>
<line x1="480.3" y1="1009.5" x2="520.4" y2="1009.5" stroke="#fffbea" stroke-width="2"/>
<line x1="539.4" y1="1009.5" x2="579.8" y2="1009.5" stroke="#fffbea" stroke-width="2"/>
<line x1="598.8" y1="1009.5" x2="618" y2="1009.5" stroke="#fffbea" stroke-width="2"/>
<circle cx="470.8" cy="948" r="6" fill="none" stroke="#fffbea" stroke-width="2"/>
<circle cx="529.9" cy="948" r="6" fill="none" stroke="#fffbea" stroke-width="2"/>
<circle cx="589.3" cy="948" r="6" fill="none" stroke="#fffbea" stroke-width="2"/>
<rect x="618" y="930.2" width="177.2" height="108.1" fill="none" stroke="#fffbea" stroke-width="2"/>
<line x1="617" y1="931.7" x2="796.2" y2="931.7" stroke="#fffbea" stroke-width="4"/>
<line x1="618" y1="1011" x2="638.5" y2="1011" stroke="#fffbea" stroke-width="2"/>
<line x1="657.5" y1="1011" x2="697.3" y2="1011" stroke="#fffbea" stroke-width="2"/>
<line x1="716.3" y1="1011" x2="756.7" y2="1011" stroke="#fffbea" stroke-width="2"/>
<line x1="775.7" y1="1011" x2="795.2" y2="1011" stroke="#fffbea" stroke-width="2"/>
<circle cx="648" cy="948.7" r="6" fill="none" stroke="#fffbea" stroke-width="2"/>
<circle cx="706.8" cy="948.7" r="6" fill="none" stroke="#fffbea" stroke-width="2"/>
<circle cx="766.2" cy="948.7" r="6" fill="none" stroke="#fffbea" stroke-width="2"/>
<clipPath id="ck1"><rect x="560" y="846" width="40" height="7.6"/></clipPath>
<clipPath id="ck2"><rect x="735" y="838" width="30" height="15.5"/></clipPath>
<g clip-path="url(#ck1)"><text transform="translate(591,919.8) rotate(-90)" x="0" y="0" font-size="29.71" fill="#c8c8c8" textLength="72.4" lengthAdjust="spacingAndGlyphs">COM1</text></g>
<g clip-path="url(#ck2)"><text transform="translate(761.2,916.1) rotate(-90)" x="0" y="0" font-size="30" fill="#c8c8c8" textLength="74" lengthAdjust="spacingAndGlyphs">COM2</text></g>
</g>
<g id="pad">
<path d="M62.2,42.8 a10.8,10.8 0 0,1 21.6,0 L83.8,64.6 a10.8,10.8 0 0,1 -21.6,0 Z M70.68,48.1 L75.32,48.1 L78.6,51.38 L78.6,56.02 L75.32,59.3 L70.68,59.3 L67.4,56.02 L67.4,51.38Z" fill="#c2c2c2" fill-rule="evenodd"/>
<path d="M121.2,42.8 a10.8,10.8 0 0,1 21.6,0 L142.8,64.6 a10.8,10.8 0 0,1 -21.6,0 Z M129.68,48.1 L134.32,48.1 L137.6,51.38 L137.6,56.02 L134.32,59.3 L129.68,59.3 L126.4,56.02 L126.4,51.38Z" fill="#c2c2c2" fill-rule="evenodd"/>
<path d="M182.2,42.8 a10.8,10.8 0 0,1 21.6,0 L203.8,64.6 a10.8,10.8 0 0,1 -21.6,0 Z M190.68,48.1 L195.32,48.1 L198.6,51.38 L198.6,56.02 L195.32,59.3 L190.68,59.3 L187.4,56.02 L187.4,51.38Z" fill="#c2c2c2" fill-rule="evenodd"/>
<path d="M241.2,42.8 a10.8,10.8 0 0,1 21.6,0 L262.8,64.6 a10.8,10.8 0 0,1 -21.6,0 Z M249.68,48.1 L254.32,48.1 L257.6,51.38 L257.6,56.02 L254.32,59.3 L249.68,59.3 L246.4,56.02 L246.4,51.38Z" fill="#c2c2c2" fill-rule="evenodd"/>
<path d="M340.2,42.8 a10.8,10.8 0 0,1 21.6,0 L361.8,64.6 a10.8,10.8 0 0,1 -21.6,0 Z M348.68,48.1 L353.32,48.1 L356.6,51.38 L356.6,56.02 L353.32,59.3 L348.68,59.3 L345.4,56.02 L345.4,51.38Z" fill="#c2c2c2" fill-rule="evenodd"/>
<path d="M399.2,42.8 a10.8,10.8 0 0,1 21.6,0 L420.8,64.6 a10.8,10.8 0 0,1 -21.6,0 Z M407.68,48.1 L412.32,48.1 L415.6,51.38 L415.6,56.02 L412.32,59.3 L407.68,59.3 L404.4,56.02 L404.4,51.38Z" fill="#c2c2c2" fill-rule="evenodd"/>
<path d="M461.2,42.8 a10.8,10.8 0 0,1 21.6,0 L482.8,64.6 a10.8,10.8 0 0,1 -21.6,0 Z M469.68,48.1 L474.32,48.1 L477.6,51.38 L477.6,56.02 L474.32,59.3 L469.68,59.3 L466.4,56.02 L466.4,51.38Z" fill="#c2c2c2" fill-rule="evenodd"/>
<path d="M520.2,42.8 a10.8,10.8 0 0,1 21.6,0 L541.8,64.6 a10.8,10.8 0 0,1 -21.6,0 Z M528.68,48.1 L533.32,48.1 L536.6,51.38 L536.6,56.02 L533.32,59.3 L528.68,59.3 L525.4,56.02 L525.4,51.38Z" fill="#c2c2c2" fill-rule="evenodd"/>
<path d="M587.2,42.8 a10.8,10.8 0 0,1 21.6,0 L608.8,64.6 a10.8,10.8 0 0,1 -21.6,0 Z M595.68,48.1 L600.32,48.1 L603.6,51.38 L603.6,56.02 L600.32,59.3 L595.68,59.3 L592.4,56.02 L592.4,51.38Z" fill="#c2c2c2" fill-rule="evenodd"/>
<path d="M646.4,42.8 a10.8,10.8 0 0,1 21.6,0 L668,64.6 a10.8,10.8 0 0,1 -21.6,0 Z M654.88,48.1 L659.52,48.1 L662.8,51.38 L662.8,56.02 L659.52,59.3 L654.88,59.3 L651.6,56.02 L651.6,51.38Z" fill="#c2c2c2" fill-rule="evenodd"/>
<path d="M706,42.8 a10.8,10.8 0 0,1 21.6,0 L727.6,64.6 a10.8,10.8 0 0,1 -21.6,0 Z M714.48,48.1 L719.12,48.1 L722.4,51.38 L722.4,56.02 L719.12,59.3 L714.48,59.3 L711.2,56.02 L711.2,51.38Z" fill="#c2c2c2" fill-rule="evenodd"/>
<path d="M764.9,42.8 a10.8,10.8 0 0,1 21.6,0 L786.5,64.6 a10.8,10.8 0 0,1 -21.6,0 Z M773.38,48.1 L778.02,48.1 L781.3,51.38 L781.3,56.02 L778.02,59.3 L773.38,59.3 L770.1,56.02 L770.1,51.38Z" fill="#c2c2c2" fill-rule="evenodd"/>
<path d="M94.25,135.95 L130.95,135.95 L130.95,172.65 L94.25,172.65Z M101.8,154.3 a10.8,10.8 0 1,0 21.6,0 a10.8,10.8 0 1,0 -21.6,0Z" fill="#c2c2c2" fill-rule="evenodd"/>
<path d="M93.35,254.65 L130.05,254.65 L130.05,291.35 L93.35,291.35Z M100.9,273 a10.8,10.8 0 1,0 21.6,0 a10.8,10.8 0 1,0 -21.6,0Z" fill="#c2c2c2" fill-rule="evenodd"/>
<path d="M183.8,174.7 L203.2,174.7 L203.2,194.1 L183.8,194.1Z M188.9,184.4 a4.6,4.6 0 1,0 9.2,0 a4.6,4.6 0 1,0 -9.2,0Z" fill="#c2c2c2" fill-rule="evenodd"/>
<path d="M183.8,203.8 L203.2,203.8 L203.2,223.2 L183.8,223.2Z M188.9,213.5 a4.6,4.6 0 1,0 9.2,0 a4.6,4.6 0 1,0 -9.2,0Z" fill="#c2c2c2" fill-rule="evenodd"/>
<path d="M183.8,233.8 L203.2,233.8 L203.2,253.2 L183.8,253.2Z M188.9,243.5 a4.6,4.6 0 1,0 9.2,0 a4.6,4.6 0 1,0 -9.2,0Z" fill="#c2c2c2" fill-rule="evenodd"/>
<path d="M94.25,291.95 L130.95,291.95 L130.95,328.65 L94.25,328.65Z M101.8,310.3 a10.8,10.8 0 1,0 21.6,0 a10.8,10.8 0 1,0 -21.6,0Z" fill="#c2c2c2" fill-rule="evenodd"/>
<path d="M93.35,410.65 L130.05,410.65 L130.05,447.35 L93.35,447.35Z M100.9,429 a10.8,10.8 0 1,0 21.6,0 a10.8,10.8 0 1,0 -21.6,0Z" fill="#c2c2c2" fill-rule="evenodd"/>
<path d="M183.8,330.7 L203.2,330.7 L203.2,350.1 L183.8,350.1Z M188.9,340.4 a4.6,4.6 0 1,0 9.2,0 a4.6,4.6 0 1,0 -9.2,0Z" fill="#c2c2c2" fill-rule="evenodd"/>
<path d="M183.8,361 L203.2,361 L203.2,380.4 L183.8,380.4Z M188.9,370.7 a4.6,4.6 0 1,0 9.2,0 a4.6,4.6 0 1,0 -9.2,0Z" fill="#c2c2c2" fill-rule="evenodd"/>
<path d="M183.8,389.8 L203.2,389.8 L203.2,409.2 L183.8,409.2Z M188.9,399.5 a4.6,4.6 0 1,0 9.2,0 a4.6,4.6 0 1,0 -9.2,0Z" fill="#c2c2c2" fill-rule="evenodd"/>
<path d="M94.25,448.25 L130.95,448.25 L130.95,484.95 L94.25,484.95Z M101.8,466.6 a10.8,10.8 0 1,0 21.6,0 a10.8,10.8 0 1,0 -21.6,0Z" fill="#c2c2c2" fill-rule="evenodd"/>
<path d="M93.35,566.95 L130.05,566.95 L130.05,603.65 L93.35,603.65Z M100.9,585.3 a10.8,10.8 0 1,0 21.6,0 a10.8,10.8 0 1,0 -21.6,0Z" fill="#c2c2c2" fill-rule="evenodd"/>
<path d="M183.8,486.7 L203.2,486.7 L203.2,506.1 L183.8,506.1Z M188.9,496.4 a4.6,4.6 0 1,0 9.2,0 a4.6,4.6 0 1,0 -9.2,0Z" fill="#c2c2c2" fill-rule="evenodd"/>
<path d="M183.8,517 L203.2,517 L203.2,536.4 L183.8,536.4Z M188.9,526.7 a4.6,4.6 0 1,0 9.2,0 a4.6,4.6 0 1,0 -9.2,0Z" fill="#c2c2c2" fill-rule="evenodd"/>
<path d="M183.8,545.8 L203.2,545.8 L203.2,565.2 L183.8,565.2Z M188.9,555.5 a4.6,4.6 0 1,0 9.2,0 a4.6,4.6 0 1,0 -9.2,0Z" fill="#c2c2c2" fill-rule="evenodd"/>
<path d="M94.25,604.35 L130.95,604.35 L130.95,641.05 L94.25,641.05Z M101.8,622.7 a10.8,10.8 0 1,0 21.6,0 a10.8,10.8 0 1,0 -21.6,0Z" fill="#c2c2c2" fill-rule="evenodd"/>
<path d="M93.35,723.05 L130.05,723.05 L130.05,759.75 L93.35,759.75Z M100.9,741.4 a10.8,10.8 0 1,0 21.6,0 a10.8,10.8 0 1,0 -21.6,0Z" fill="#c2c2c2" fill-rule="evenodd"/>
<path d="M183.8,642.7 L203.2,642.7 L203.2,662.1 L183.8,662.1Z M188.9,652.4 a4.6,4.6 0 1,0 9.2,0 a4.6,4.6 0 1,0 -9.2,0Z" fill="#c2c2c2" fill-rule="evenodd"/>
<path d="M183.8,673 L203.2,673 L203.2,692.4 L183.8,692.4Z M188.9,682.7 a4.6,4.6 0 1,0 9.2,0 a4.6,4.6 0 1,0 -9.2,0Z" fill="#c2c2c2" fill-rule="evenodd"/>
<path d="M183.8,702.8 L203.2,702.8 L203.2,722.2 L183.8,722.2Z M188.9,712.5 a4.6,4.6 0 1,0 9.2,0 a4.6,4.6 0 1,0 -9.2,0Z" fill="#c2c2c2" fill-rule="evenodd"/>
<path d="M91.25,760.95 L127.95,760.95 L127.95,797.65 L91.25,797.65Z M98.8,779.3 a10.8,10.8 0 1,0 21.6,0 a10.8,10.8 0 1,0 -21.6,0Z" fill="#c2c2c2" fill-rule="evenodd"/>
<path d="M90.35,879.65 L127.05,879.65 L127.05,916.35 L90.35,916.35Z M97.9,898 a10.8,10.8 0 1,0 21.6,0 a10.8,10.8 0 1,0 -21.6,0Z" fill="#c2c2c2" fill-rule="evenodd"/>
<path d="M180.8,799.6 L200.2,799.6 L200.2,819 L180.8,819Z M185.9,809.3 a4.6,4.6 0 1,0 9.2,0 a4.6,4.6 0 1,0 -9.2,0Z" fill="#c2c2c2" fill-rule="evenodd"/>
<path d="M180.8,828.8 L200.2,828.8 L200.2,848.2 L180.8,848.2Z M185.9,838.5 a4.6,4.6 0 1,0 9.2,0 a4.6,4.6 0 1,0 -9.2,0Z" fill="#c2c2c2" fill-rule="evenodd"/>
<path d="M180.8,858.8 L200.2,858.8 L200.2,878.2 L180.8,878.2Z M185.9,868.5 a4.6,4.6 0 1,0 9.2,0 a4.6,4.6 0 1,0 -9.2,0Z" fill="#c2c2c2" fill-rule="evenodd"/>
<path d="M295.6,391.3 a9.6,9.6 0 1,0 19.2,0 a9.6,9.6 0 1,0 -19.2,0Z M300.8,391.3 a4.4,4.4 0 1,0 8.8,0 a4.4,4.4 0 1,0 -8.8,0Z" fill="#c2c2c2" fill-rule="evenodd"/>
<path d="M475.7,391.3 a9.6,9.6 0 1,0 19.2,0 a9.6,9.6 0 1,0 -19.2,0Z M480.9,391.3 a4.4,4.4 0 1,0 8.8,0 a4.4,4.4 0 1,0 -8.8,0Z" fill="#c2c2c2" fill-rule="evenodd"/>
<path d="M295.6,421.3 a9.6,9.6 0 1,0 19.2,0 a9.6,9.6 0 1,0 -19.2,0Z M300.8,421.3 a4.4,4.4 0 1,0 8.8,0 a4.4,4.4 0 1,0 -8.8,0Z" fill="#c2c2c2" fill-rule="evenodd"/>
<path d="M475.7,421.3 a9.6,9.6 0 1,0 19.2,0 a9.6,9.6 0 1,0 -19.2,0Z M480.9,421.3 a4.4,4.4 0 1,0 8.8,0 a4.4,4.4 0 1,0 -8.8,0Z" fill="#c2c2c2" fill-rule="evenodd"/>
<path d="M295.6,451.3 a9.6,9.6 0 1,0 19.2,0 a9.6,9.6 0 1,0 -19.2,0Z M300.8,451.3 a4.4,4.4 0 1,0 8.8,0 a4.4,4.4 0 1,0 -8.8,0Z" fill="#c2c2c2" fill-rule="evenodd"/>
<path d="M475.7,451.3 a9.6,9.6 0 1,0 19.2,0 a9.6,9.6 0 1,0 -19.2,0Z M480.9,451.3 a4.4,4.4 0 1,0 8.8,0 a4.4,4.4 0 1,0 -8.8,0Z" fill="#c2c2c2" fill-rule="evenodd"/>
<path d="M295.6,481.3 a9.6,9.6 0 1,0 19.2,0 a9.6,9.6 0 1,0 -19.2,0Z M300.8,481.3 a4.4,4.4 0 1,0 8.8,0 a4.4,4.4 0 1,0 -8.8,0Z" fill="#c2c2c2" fill-rule="evenodd"/>
<path d="M475.7,481.3 a9.6,9.6 0 1,0 19.2,0 a9.6,9.6 0 1,0 -19.2,0Z M480.9,481.3 a4.4,4.4 0 1,0 8.8,0 a4.4,4.4 0 1,0 -8.8,0Z" fill="#c2c2c2" fill-rule="evenodd"/>
<path d="M295.6,511.3 a9.6,9.6 0 1,0 19.2,0 a9.6,9.6 0 1,0 -19.2,0Z M300.8,511.3 a4.4,4.4 0 1,0 8.8,0 a4.4,4.4 0 1,0 -8.8,0Z" fill="#c2c2c2" fill-rule="evenodd"/>
<path d="M475.7,511.3 a9.6,9.6 0 1,0 19.2,0 a9.6,9.6 0 1,0 -19.2,0Z M480.9,511.3 a4.4,4.4 0 1,0 8.8,0 a4.4,4.4 0 1,0 -8.8,0Z" fill="#c2c2c2" fill-rule="evenodd"/>
<path d="M295.6,541.3 a9.6,9.6 0 1,0 19.2,0 a9.6,9.6 0 1,0 -19.2,0Z M300.8,541.3 a4.4,4.4 0 1,0 8.8,0 a4.4,4.4 0 1,0 -8.8,0Z" fill="#c2c2c2" fill-rule="evenodd"/>
<path d="M475.7,541.3 a9.6,9.6 0 1,0 19.2,0 a9.6,9.6 0 1,0 -19.2,0Z M480.9,541.3 a4.4,4.4 0 1,0 8.8,0 a4.4,4.4 0 1,0 -8.8,0Z" fill="#c2c2c2" fill-rule="evenodd"/>
<path d="M295.6,571.3 a9.6,9.6 0 1,0 19.2,0 a9.6,9.6 0 1,0 -19.2,0Z M300.8,571.3 a4.4,4.4 0 1,0 8.8,0 a4.4,4.4 0 1,0 -8.8,0Z" fill="#c2c2c2" fill-rule="evenodd"/>
<path d="M475.7,571.3 a9.6,9.6 0 1,0 19.2,0 a9.6,9.6 0 1,0 -19.2,0Z M480.9,571.3 a4.4,4.4 0 1,0 8.8,0 a4.4,4.4 0 1,0 -8.8,0Z" fill="#c2c2c2" fill-rule="evenodd"/>
<path d="M295.6,601.3 a9.6,9.6 0 1,0 19.2,0 a9.6,9.6 0 1,0 -19.2,0Z M300.8,601.3 a4.4,4.4 0 1,0 8.8,0 a4.4,4.4 0 1,0 -8.8,0Z" fill="#c2c2c2" fill-rule="evenodd"/>
<path d="M475.7,601.3 a9.6,9.6 0 1,0 19.2,0 a9.6,9.6 0 1,0 -19.2,0Z M480.9,601.3 a4.4,4.4 0 1,0 8.8,0 a4.4,4.4 0 1,0 -8.8,0Z" fill="#c2c2c2" fill-rule="evenodd"/>
<path d="M295.6,631.3 a9.6,9.6 0 1,0 19.2,0 a9.6,9.6 0 1,0 -19.2,0Z M300.8,631.3 a4.4,4.4 0 1,0 8.8,0 a4.4,4.4 0 1,0 -8.8,0Z" fill="#c2c2c2" fill-rule="evenodd"/>
<path d="M475.7,631.3 a9.6,9.6 0 1,0 19.2,0 a9.6,9.6 0 1,0 -19.2,0Z M480.9,631.3 a4.4,4.4 0 1,0 8.8,0 a4.4,4.4 0 1,0 -8.8,0Z" fill="#c2c2c2" fill-rule="evenodd"/>
<path d="M295.6,661.3 a9.6,9.6 0 1,0 19.2,0 a9.6,9.6 0 1,0 -19.2,0Z M300.8,661.3 a4.4,4.4 0 1,0 8.8,0 a4.4,4.4 0 1,0 -8.8,0Z" fill="#c2c2c2" fill-rule="evenodd"/>
<path d="M475.7,661.3 a9.6,9.6 0 1,0 19.2,0 a9.6,9.6 0 1,0 -19.2,0Z M480.9,661.3 a4.4,4.4 0 1,0 8.8,0 a4.4,4.4 0 1,0 -8.8,0Z" fill="#c2c2c2" fill-rule="evenodd"/>
<path d="M295.6,691.3 a9.6,9.6 0 1,0 19.2,0 a9.6,9.6 0 1,0 -19.2,0Z M300.8,691.3 a4.4,4.4 0 1,0 8.8,0 a4.4,4.4 0 1,0 -8.8,0Z" fill="#c2c2c2" fill-rule="evenodd"/>
<path d="M475.7,691.3 a9.6,9.6 0 1,0 19.2,0 a9.6,9.6 0 1,0 -19.2,0Z M480.9,691.3 a4.4,4.4 0 1,0 8.8,0 a4.4,4.4 0 1,0 -8.8,0Z" fill="#c2c2c2" fill-rule="evenodd"/>
<path d="M295.6,721.3 a9.6,9.6 0 1,0 19.2,0 a9.6,9.6 0 1,0 -19.2,0Z M300.8,721.3 a4.4,4.4 0 1,0 8.8,0 a4.4,4.4 0 1,0 -8.8,0Z" fill="#c2c2c2" fill-rule="evenodd"/>
<path d="M475.7,721.3 a9.6,9.6 0 1,0 19.2,0 a9.6,9.6 0 1,0 -19.2,0Z M480.9,721.3 a4.4,4.4 0 1,0 8.8,0 a4.4,4.4 0 1,0 -8.8,0Z" fill="#c2c2c2" fill-rule="evenodd"/>
<path d="M295.6,751.3 a9.6,9.6 0 1,0 19.2,0 a9.6,9.6 0 1,0 -19.2,0Z M300.8,751.3 a4.4,4.4 0 1,0 8.8,0 a4.4,4.4 0 1,0 -8.8,0Z" fill="#c2c2c2" fill-rule="evenodd"/>
<path d="M475.7,751.3 a9.6,9.6 0 1,0 19.2,0 a9.6,9.6 0 1,0 -19.2,0Z M480.9,751.3 a4.4,4.4 0 1,0 8.8,0 a4.4,4.4 0 1,0 -8.8,0Z" fill="#c2c2c2" fill-rule="evenodd"/>
<path d="M295.6,781.3 a9.6,9.6 0 1,0 19.2,0 a9.6,9.6 0 1,0 -19.2,0Z M300.8,781.3 a4.4,4.4 0 1,0 8.8,0 a4.4,4.4 0 1,0 -8.8,0Z" fill="#c2c2c2" fill-rule="evenodd"/>
<path d="M475.7,781.3 a9.6,9.6 0 1,0 19.2,0 a9.6,9.6 0 1,0 -19.2,0Z M480.9,781.3 a4.4,4.4 0 1,0 8.8,0 a4.4,4.4 0 1,0 -8.8,0Z" fill="#c2c2c2" fill-rule="evenodd"/>
<path d="M295.6,811.3 a9.6,9.6 0 1,0 19.2,0 a9.6,9.6 0 1,0 -19.2,0Z M300.8,811.3 a4.4,4.4 0 1,0 8.8,0 a4.4,4.4 0 1,0 -8.8,0Z" fill="#c2c2c2" fill-rule="evenodd"/>
<path d="M475.5,801.5 L495.1,801.5 L495.1,821.1 L475.5,821.1Z M481,811.3 a4.3,4.3 0 1,0 8.6,0 a4.3,4.3 0 1,0 -8.6,0Z" fill="#c2c2c2" fill-rule="evenodd"/>
<path d="M563,391.3 a9.6,9.6 0 1,0 19.2,0 a9.6,9.6 0 1,0 -19.2,0Z M568.2,391.3 a4.4,4.4 0 1,0 8.8,0 a4.4,4.4 0 1,0 -8.8,0Z" fill="#c2c2c2" fill-rule="evenodd"/>
<path d="M742.3,391.3 a9.6,9.6 0 1,0 19.2,0 a9.6,9.6 0 1,0 -19.2,0Z M747.5,391.3 a4.4,4.4 0 1,0 8.8,0 a4.4,4.4 0 1,0 -8.8,0Z" fill="#c2c2c2" fill-rule="evenodd"/>
<path d="M563,421.3 a9.6,9.6 0 1,0 19.2,0 a9.6,9.6 0 1,0 -19.2,0Z M568.2,421.3 a4.4,4.4 0 1,0 8.8,0 a4.4,4.4 0 1,0 -8.8,0Z" fill="#c2c2c2" fill-rule="evenodd"/>
<path d="M742.3,421.3 a9.6,9.6 0 1,0 19.2,0 a9.6,9.6 0 1,0 -19.2,0Z M747.5,421.3 a4.4,4.4 0 1,0 8.8,0 a4.4,4.4 0 1,0 -8.8,0Z" fill="#c2c2c2" fill-rule="evenodd"/>
<path d="M563,451.3 a9.6,9.6 0 1,0 19.2,0 a9.6,9.6 0 1,0 -19.2,0Z M568.2,451.3 a4.4,4.4 0 1,0 8.8,0 a4.4,4.4 0 1,0 -8.8,0Z" fill="#c2c2c2" fill-rule="evenodd"/>
<path d="M742.3,451.3 a9.6,9.6 0 1,0 19.2,0 a9.6,9.6 0 1,0 -19.2,0Z M747.5,451.3 a4.4,4.4 0 1,0 8.8,0 a4.4,4.4 0 1,0 -8.8,0Z" fill="#c2c2c2" fill-rule="evenodd"/>
<path d="M563,481.3 a9.6,9.6 0 1,0 19.2,0 a9.6,9.6 0 1,0 -19.2,0Z M568.2,481.3 a4.4,4.4 0 1,0 8.8,0 a4.4,4.4 0 1,0 -8.8,0Z" fill="#c2c2c2" fill-rule="evenodd"/>
<path d="M742.3,481.3 a9.6,9.6 0 1,0 19.2,0 a9.6,9.6 0 1,0 -19.2,0Z M747.5,481.3 a4.4,4.4 0 1,0 8.8,0 a4.4,4.4 0 1,0 -8.8,0Z" fill="#c2c2c2" fill-rule="evenodd"/>
<path d="M563,511.3 a9.6,9.6 0 1,0 19.2,0 a9.6,9.6 0 1,0 -19.2,0Z M568.2,511.3 a4.4,4.4 0 1,0 8.8,0 a4.4,4.4 0 1,0 -8.8,0Z" fill="#c2c2c2" fill-rule="evenodd"/>
<path d="M742.3,511.3 a9.6,9.6 0 1,0 19.2,0 a9.6,9.6 0 1,0 -19.2,0Z M747.5,511.3 a4.4,4.4 0 1,0 8.8,0 a4.4,4.4 0 1,0 -8.8,0Z" fill="#c2c2c2" fill-rule="evenodd"/>
<path d="M563,541.3 a9.6,9.6 0 1,0 19.2,0 a9.6,9.6 0 1,0 -19.2,0Z M568.2,541.3 a4.4,4.4 0 1,0 8.8,0 a4.4,4.4 0 1,0 -8.8,0Z" fill="#c2c2c2" fill-rule="evenodd"/>
<path d="M742.3,541.3 a9.6,9.6 0 1,0 19.2,0 a9.6,9.6 0 1,0 -19.2,0Z M747.5,541.3 a4.4,4.4 0 1,0 8.8,0 a4.4,4.4 0 1,0 -8.8,0Z" fill="#c2c2c2" fill-rule="evenodd"/>
<path d="M563,571.3 a9.6,9.6 0 1,0 19.2,0 a9.6,9.6 0 1,0 -19.2,0Z M568.2,571.3 a4.4,4.4 0 1,0 8.8,0 a4.4,4.4 0 1,0 -8.8,0Z" fill="#c2c2c2" fill-rule="evenodd"/>
<path d="M742.3,571.3 a9.6,9.6 0 1,0 19.2,0 a9.6,9.6 0 1,0 -19.2,0Z M747.5,571.3 a4.4,4.4 0 1,0 8.8,0 a4.4,4.4 0 1,0 -8.8,0Z" fill="#c2c2c2" fill-rule="evenodd"/>
<path d="M563,601.3 a9.6,9.6 0 1,0 19.2,0 a9.6,9.6 0 1,0 -19.2,0Z M568.2,601.3 a4.4,4.4 0 1,0 8.8,0 a4.4,4.4 0 1,0 -8.8,0Z" fill="#c2c2c2" fill-rule="evenodd"/>
<path d="M742.3,601.3 a9.6,9.6 0 1,0 19.2,0 a9.6,9.6 0 1,0 -19.2,0Z M747.5,601.3 a4.4,4.4 0 1,0 8.8,0 a4.4,4.4 0 1,0 -8.8,0Z" fill="#c2c2c2" fill-rule="evenodd"/>
<path d="M563,631.3 a9.6,9.6 0 1,0 19.2,0 a9.6,9.6 0 1,0 -19.2,0Z M568.2,631.3 a4.4,4.4 0 1,0 8.8,0 a4.4,4.4 0 1,0 -8.8,0Z" fill="#c2c2c2" fill-rule="evenodd"/>
<path d="M742.3,631.3 a9.6,9.6 0 1,0 19.2,0 a9.6,9.6 0 1,0 -19.2,0Z M747.5,631.3 a4.4,4.4 0 1,0 8.8,0 a4.4,4.4 0 1,0 -8.8,0Z" fill="#c2c2c2" fill-rule="evenodd"/>
<path d="M563,661.3 a9.6,9.6 0 1,0 19.2,0 a9.6,9.6 0 1,0 -19.2,0Z M568.2,661.3 a4.4,4.4 0 1,0 8.8,0 a4.4,4.4 0 1,0 -8.8,0Z" fill="#c2c2c2" fill-rule="evenodd"/>
<path d="M742.3,661.3 a9.6,9.6 0 1,0 19.2,0 a9.6,9.6 0 1,0 -19.2,0Z M747.5,661.3 a4.4,4.4 0 1,0 8.8,0 a4.4,4.4 0 1,0 -8.8,0Z" fill="#c2c2c2" fill-rule="evenodd"/>
<path d="M563,691.3 a9.6,9.6 0 1,0 19.2,0 a9.6,9.6 0 1,0 -19.2,0Z M568.2,691.3 a4.4,4.4 0 1,0 8.8,0 a4.4,4.4 0 1,0 -8.8,0Z" fill="#c2c2c2" fill-rule="evenodd"/>
<path d="M742.3,691.3 a9.6,9.6 0 1,0 19.2,0 a9.6,9.6 0 1,0 -19.2,0Z M747.5,691.3 a4.4,4.4 0 1,0 8.8,0 a4.4,4.4 0 1,0 -8.8,0Z" fill="#c2c2c2" fill-rule="evenodd"/>
<path d="M563,721.3 a9.6,9.6 0 1,0 19.2,0 a9.6,9.6 0 1,0 -19.2,0Z M568.2,721.3 a4.4,4.4 0 1,0 8.8,0 a4.4,4.4 0 1,0 -8.8,0Z" fill="#c2c2c2" fill-rule="evenodd"/>
<path d="M742.3,721.3 a9.6,9.6 0 1,0 19.2,0 a9.6,9.6 0 1,0 -19.2,0Z M747.5,721.3 a4.4,4.4 0 1,0 8.8,0 a4.4,4.4 0 1,0 -8.8,0Z" fill="#c2c2c2" fill-rule="evenodd"/>
<path d="M563,751.3 a9.6,9.6 0 1,0 19.2,0 a9.6,9.6 0 1,0 -19.2,0Z M568.2,751.3 a4.4,4.4 0 1,0 8.8,0 a4.4,4.4 0 1,0 -8.8,0Z" fill="#c2c2c2" fill-rule="evenodd"/>
<path d="M742.3,751.3 a9.6,9.6 0 1,0 19.2,0 a9.6,9.6 0 1,0 -19.2,0Z M747.5,751.3 a4.4,4.4 0 1,0 8.8,0 a4.4,4.4 0 1,0 -8.8,0Z" fill="#c2c2c2" fill-rule="evenodd"/>
<path d="M563,781.3 a9.6,9.6 0 1,0 19.2,0 a9.6,9.6 0 1,0 -19.2,0Z M568.2,781.3 a4.4,4.4 0 1,0 8.8,0 a4.4,4.4 0 1,0 -8.8,0Z" fill="#c2c2c2" fill-rule="evenodd"/>
<path d="M742.3,781.3 a9.6,9.6 0 1,0 19.2,0 a9.6,9.6 0 1,0 -19.2,0Z M747.5,781.3 a4.4,4.4 0 1,0 8.8,0 a4.4,4.4 0 1,0 -8.8,0Z" fill="#c2c2c2" fill-rule="evenodd"/>
<path d="M563,811.3 a9.6,9.6 0 1,0 19.2,0 a9.6,9.6 0 1,0 -19.2,0Z M568.2,811.3 a4.4,4.4 0 1,0 8.8,0 a4.4,4.4 0 1,0 -8.8,0Z" fill="#c2c2c2" fill-rule="evenodd"/>
<path d="M742.1,801.5 L761.7,801.5 L761.7,821.1 L742.1,821.1Z M747.6,811.3 a4.3,4.3 0 1,0 8.6,0 a4.3,4.3 0 1,0 -8.6,0Z" fill="#c2c2c2" fill-rule="evenodd"/>
<path d="M282.1,161.2 L288.9,161.2 L293.7,166 L293.7,172.8 L288.9,177.6 L282.1,177.6 L277.3,172.8 L277.3,166Z M281.8,169.4 a3.7,3.7 0 1,0 7.4,0 a3.7,3.7 0 1,0 -7.4,0Z" fill="#c2c2c2" fill-rule="evenodd"/>
<path d="M312.2,161.2 L319,161.2 L323.8,166 L323.8,172.8 L319,177.6 L312.2,177.6 L307.4,172.8 L307.4,166Z M311.9,169.4 a3.7,3.7 0 1,0 7.4,0 a3.7,3.7 0 1,0 -7.4,0Z" fill="#c2c2c2" fill-rule="evenodd"/>
<path d="M544.2,160.9 L551,160.9 L555.8,165.7 L555.8,172.5 L551,177.3 L544.2,177.3 L539.4,172.5 L539.4,165.7Z M543.9,169.1 a3.7,3.7 0 1,0 7.4,0 a3.7,3.7 0 1,0 -7.4,0Z" fill="#c2c2c2" fill-rule="evenodd"/>
<path d="M574.4,160.9 L581.2,160.9 L586,165.7 L586,172.5 L581.2,177.3 L574.4,177.3 L569.6,172.5 L569.6,165.7Z M574.1,169.1 a3.7,3.7 0 1,0 7.4,0 a3.7,3.7 0 1,0 -7.4,0Z" fill="#c2c2c2" fill-rule="evenodd"/>
<rect x="354" y="158.2" width="19" height="22.3" fill="#c2c2c2"/>
<rect x="387" y="158.2" width="19.5" height="23.3" fill="#c2c2c2"/>
<rect x="607.8" y="154.8" width="19.1" height="23.1" fill="#c2c2c2"/>
<rect x="641.4" y="155.7" width="18.7" height="22.5" fill="#c2c2c2"/>
<path d="M204.6,978.1 a10.8,10.8 0 0,1 21.6,0 L226.2,999.9 a10.8,10.8 0 0,1 -21.6,0 Z M213.08,983.4 L217.72,983.4 L221,986.68 L221,991.32 L217.72,994.6 L213.08,994.6 L209.8,991.32 L209.8,986.68Z" fill="#c2c2c2" fill-rule="evenodd"/>
<path d="M263.6,978.1 a10.8,10.8 0 0,1 21.6,0 L285.2,999.9 a10.8,10.8 0 0,1 -21.6,0 Z M272.08,983.4 L276.72,983.4 L280,986.68 L280,991.32 L276.72,994.6 L272.08,994.6 L268.8,991.32 L268.8,986.68Z" fill="#c2c2c2" fill-rule="evenodd"/>
<path d="M321.5,978.1 a10.8,10.8 0 0,1 21.6,0 L343.1,999.9 a10.8,10.8 0 0,1 -21.6,0 Z M329.98,983.4 L334.62,983.4 L337.9,986.68 L337.9,991.32 L334.62,994.6 L329.98,994.6 L326.7,991.32 L326.7,986.68Z" fill="#c2c2c2" fill-rule="evenodd"/>
<path d="M379.5,978.1 a10.8,10.8 0 0,1 21.6,0 L401.1,999.9 a10.8,10.8 0 0,1 -21.6,0 Z M387.98,983.4 L392.62,983.4 L395.9,986.68 L395.9,991.32 L392.62,994.6 L387.98,994.6 L384.7,991.32 L384.7,986.68Z" fill="#c2c2c2" fill-rule="evenodd"/>
<path d="M460,978.3 a10.8,10.8 0 0,1 21.6,0 L481.6,1000.1 a10.8,10.8 0 0,1 -21.6,0 Z M468.48,983.6 L473.12,983.6 L476.4,986.88 L476.4,991.52 L473.12,994.8 L468.48,994.8 L465.2,991.52 L465.2,986.88Z" fill="#c2c2c2" fill-rule="evenodd"/>
<path d="M519.1,978.3 a10.8,10.8 0 0,1 21.6,0 L540.7,1000.1 a10.8,10.8 0 0,1 -21.6,0 Z M527.58,983.6 L532.22,983.6 L535.5,986.88 L535.5,991.52 L532.22,994.8 L527.58,994.8 L524.3,991.52 L524.3,986.88Z" fill="#c2c2c2" fill-rule="evenodd"/>
<path d="M578.5,978.3 a10.8,10.8 0 0,1 21.6,0 L600.1,1000.1 a10.8,10.8 0 0,1 -21.6,0 Z M586.98,983.6 L591.62,983.6 L594.9,986.88 L594.9,991.52 L591.62,994.8 L586.98,994.8 L583.7,991.52 L583.7,986.88Z" fill="#c2c2c2" fill-rule="evenodd"/>
<path d="M637.2,979.5 a10.8,10.8 0 0,1 21.6,0 L658.8,1001.3 a10.8,10.8 0 0,1 -21.6,0 Z M645.68,984.8 L650.32,984.8 L653.6,988.08 L653.6,992.72 L650.32,996 L645.68,996 L642.4,992.72 L642.4,988.08Z" fill="#c2c2c2" fill-rule="evenodd"/>
<path d="M696,979.5 a10.8,10.8 0 0,1 21.6,0 L717.6,1001.3 a10.8,10.8 0 0,1 -21.6,0 Z M704.48,984.8 L709.12,984.8 L712.4,988.08 L712.4,992.72 L709.12,996 L704.48,996 L701.2,992.72 L701.2,988.08Z" fill="#c2c2c2" fill-rule="evenodd"/>
<path d="M755.4,979.5 a10.8,10.8 0 0,1 21.6,0 L777,1001.3 a10.8,10.8 0 0,1 -21.6,0 Z M763.88,984.8 L768.52,984.8 L771.8,988.08 L771.8,992.72 L768.52,996 L763.88,996 L760.6,992.72 L760.6,988.08Z" fill="#c2c2c2" fill-rule="evenodd"/>
</g>
</svg>
</body></html>
